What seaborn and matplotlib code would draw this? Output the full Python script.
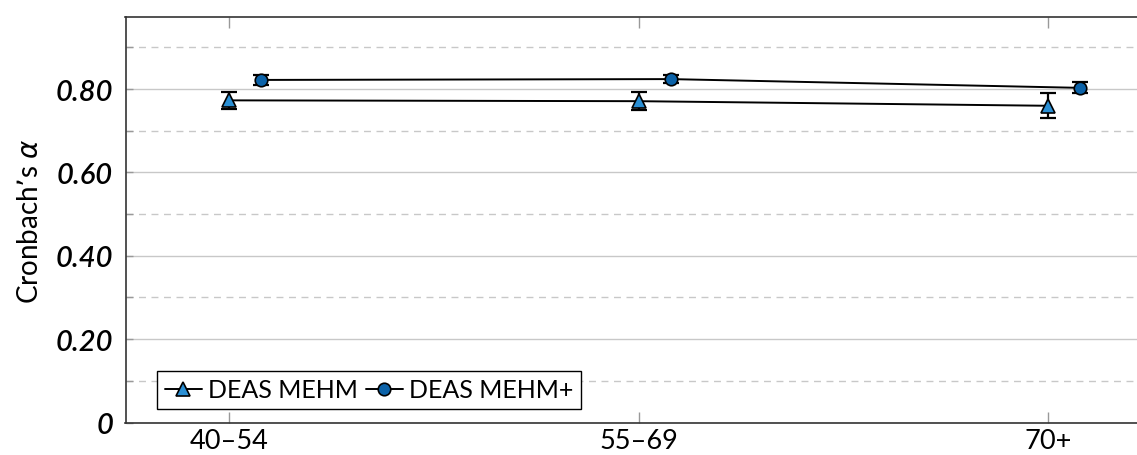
import numpy as np
import pandas as pd
import matplotlib
matplotlib.use("Agg")
import matplotlib.pyplot as plt
import seaborn as sns
from matplotlib.ticker import FixedLocator, FuncFormatter

categories = ["40–54", "55–69", "70+"]
series_names = ["DEAS MEHM", "DEAS MEHM+"]
mehm_alpha = [0.773, 0.771, 0.760]
mehm_err = [0.020, 0.021, 0.030]
mehmplus_alpha = [0.822, 0.824, 0.803]
mehmplus_err = [0.012, 0.010, 0.013]

sns.set_theme(style="white")
plt.rcParams["font.family"] = ["Lato", "DejaVu Sans"]
plt.rcParams["text.color"] = "black"
plt.rcParams["axes.labelcolor"] = "black"
plt.rcParams["xtick.labelcolor"] = "black"
plt.rcParams["ytick.labelcolor"] = "black"

offsets = [0.0, 0.078]
colors = ["#2a8fd4", "#0b62a8"]
markers = ["^", "o"]
msizes = [10, 9]

rows = []
for name, vals, errs, off in zip(series_names, [mehm_alpha, mehmplus_alpha],
                                 [mehm_err, mehmplus_err], offsets):
    for i, (v, e) in enumerate(zip(vals, errs)):
        rows.append({"series": name, "x": i + off, "alpha": v, "err": e})
df = pd.DataFrame(rows)

fig = plt.figure(figsize=(11.37, 4.56), dpi=100)
left_px, right_px, top_px, bot_px = 125.5, 1152, 18, 423.5
ax = fig.add_axes([left_px / 1137, 1 - bot_px / 456,
                   (right_px - left_px) / 1137, (bot_px - top_px) / 456])

for k, name in enumerate(series_names):
    sub = df[df["series"] == name]
    ax.errorbar(sub["x"], sub["alpha"], yerr=sub["err"], fmt="none",
                ecolor="black", elinewidth=1.6, capsize=6, capthick=1.6, zorder=3)
    sns.lineplot(data=sub, x="x", y="alpha", ax=ax, color="black", lw=1.4,
                 marker=markers[k], markersize=msizes[k],
                 markerfacecolor=colors[k], markeredgecolor="black",
                 markeredgewidth=1.2, label=name, zorder=4)

ax.set_xlim(-0.254, 2.254)
ax.set_ylim(0, 0.973)
ax.set_xticks(range(len(categories)))
ax.set_xticklabels(categories, fontsize=19.5, color="black")
ax.yaxis.set_major_locator(FixedLocator([0, 0.2, 0.4, 0.6, 0.8]))
ax.yaxis.set_minor_locator(FixedLocator([0.1, 0.3, 0.5, 0.7, 0.9]))
ax.yaxis.set_major_formatter(FuncFormatter(lambda v, p: "0" if abs(v) < 1e-9 else f"{v:.2f}"))
for lab in ax.get_yticklabels():
    lab.set_fontstyle("italic")
    lab.set_fontweight("semibold")
    lab.set_fontsize(21)
    lab.set_color("black")

ax.grid(axis="y", which="major", color="#c8c8c8", lw=1.0, ls="-")
ax.grid(axis="y", which="minor", color="#c8c8c8", lw=1.0, ls=(0, (5, 4)))
ax.set_axisbelow(True)

ax.tick_params(axis="x", which="major", direction="in", length=8, width=1,
               color="#999999", top=True, bottom=True, pad=4)
ax.tick_params(axis="y", which="both", direction="in", length=5, width=1,
               color="#999999", left=True, right=False, pad=9)

for s in ax.spines.values():
    s.set_color("#333333")
    s.set_linewidth(1.2)

ax.set_xlabel("")
ax.set_ylabel("Cronbach’s $\\alpha$", fontsize=20, labelpad=9, color="black")

leg = ax.legend(loc="lower left", ncol=2, fontsize=18, frameon=True,
                fancybox=False, edgecolor="black", framealpha=1,
                handlelength=1.5, handletextpad=0.25, columnspacing=0.3,
                borderpad=0.3, borderaxespad=0.0,
                bbox_to_anchor=((157 - left_px) / (right_px - left_px),
                                (bot_px - 410) / (bot_px - top_px)))
leg.get_frame().set_linewidth(1.0)
for t in leg.get_texts():
    t.set_color("black")

fig.savefig("out.png", dpi=100)
